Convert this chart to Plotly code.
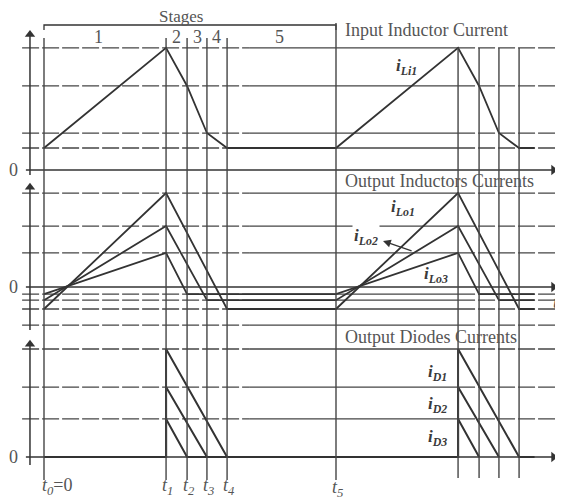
import plotly.graph_objects as go

# ---------------- data ----------------
# switching instants (arbitrary time units, t0 = 0, period = 10)
t_names = ["t<sub>0</sub>=0", "t<sub>1</sub>", "t<sub>2</sub>", "t<sub>3</sub>", "t<sub>4</sub>", "t<sub>5</sub>"]
t_marks = [0.0, 4.18, 4.90, 5.58, 6.27, 10.0]
t_marks_next = [14.18, 14.90, 15.58, 16.27]

# input inductor current
t_li1 = [0.0, 4.18, 4.90, 5.58, 6.27, 10.0, 14.18, 14.90, 15.58, 16.27, 16.8]
i_li1 = [1.0, 5.55, 3.82, 1.68, 1.0, 1.0, 5.55, 3.82, 1.68, 1.0, 1.0]

# output inductor currents
t_lo1 = [0.0, 4.18, 6.27, 10.0, 14.18, 16.27, 16.8]
i_lo1 = [-1.0, 4.27, -1.0, -1.0, 4.27, -1.0, -1.0]
t_lo2 = [0.0, 4.18, 5.58, 10.0, 14.18, 15.58, 16.8]
i_lo2 = [-0.6, 2.77, -0.6, -0.6, 2.77, -0.6, -0.6]
t_lo3 = [0.0, 4.18, 4.90, 10.0, 14.18, 14.90, 16.8]
i_lo3 = [-0.32, 1.55, -0.32, -0.32, 1.55, -0.32, -0.32]

# output diode currents
t_d1 = [0.0, 4.18, 4.18, 6.27, 14.18, 14.18, 16.27, 16.8]
i_d1 = [0.0, 0.0, 4.91, 0.0, 0.0, 4.91, 0.0, 0.0]
t_d2 = [4.18, 4.18, 5.58, 14.18, 14.18, 15.58]
i_d2 = [0.0, 3.18, 0.0, 0.0, 3.18, 0.0]
t_d3 = [4.18, 4.18, 4.90, 14.18, 14.18, 14.90]
i_d3 = [0.0, 1.73, 0.0, 0.0, 1.73, 0.0]

# reference levels (dashed guide lines)
top_levels = [5.55, 3.82, 1.68, 1.0]
mid_levels = [4.27, 2.77, 1.55, -0.32, -0.6, -1.0, -1.73]
bot_levels = [4.91, 3.18, 1.73]

stage_names = ["1", "2", "3", "4", "5"]
stage_x = [1.85, 4.55, 5.24, 5.92, 8.07]

# ---------------- figure ----------------
OFF = 8                 # page body margin
W, H = 563 - OFF, 499 - OFF
LINE = "#333333"
GRID = "#454545"
TXT = "#555555"
SERIF = "Liberation Serif, Times New Roman, serif"

fig = go.Figure()

def add_line(x, y, yaxis, color=LINE, width=1.8, dash="solid"):
    fig.add_trace(go.Scatter(x=x, y=y, yaxis=yaxis, mode="lines",
                             line=dict(color=color, width=width, dash=dash),
                             hoverinfo="skip", showlegend=False))

def add_levels(levels, yaxis):
    segs = [(-0.75, 7.05, "17px,3px"), (7.05, 14.18, "solid"), (14.18, 17.5, "17px,3px")]
    for a, b, d in segs:
        xs, ys = [], []
        for lv in levels:
            xs += [a, b, None]
            ys += [lv, lv, None]
        add_line(xs, ys, yaxis, color=GRID, width=1.3, dash=d)

add_levels(top_levels, "y")
add_levels(mid_levels, "y2")
add_levels(bot_levels, "y3")

# axes (zero lines + vertical axes with arrows)
for ax, ybot, ytop in [("y", -0.23, 6.36), ("y2", -1.95, 4.73), ("y3", -0.36, 5.32)]:
    add_line([-0.62, 17.45], [0, 0], ax, width=1.5)
    add_line([-0.48, -0.48], [ybot, ytop - 0.2], ax, width=1.5)
    fig.add_trace(go.Scatter(x=[17.45], y=[0], yaxis=ax, mode="markers",
                             marker=dict(symbol="triangle-right", size=9, color=LINE),
                             hoverinfo="skip", showlegend=False))
    fig.add_trace(go.Scatter(x=[-0.48], y=[ytop - 0.2], yaxis=ax, mode="markers",
                             marker=dict(symbol="triangle-up", size=9, color=LINE),
                             hoverinfo="skip", showlegend=False))

# current waveforms
add_line(t_li1, i_li1, "y")
add_line(t_lo1, i_lo1, "y2")
add_line(t_lo2, i_lo2, "y2")
add_line(t_lo3, i_lo3, "y2")
add_line(t_d1, i_d1, "y3", width=2.0)
add_line(t_d2, i_d2, "y3", width=2.0)
add_line(t_d3, i_d3, "y3", width=2.0)

# stage bracket
add_line([0, 0, 10.0, 10.0], [6.36, 6.59, 6.59, 6.36], "y", width=1.3)

# vertical time markers
def py(p):
    return 1 - (p - OFF) / H

shapes = []
for i, t in enumerate(t_marks):
    top = 23 if i == 5 else 38
    shapes.append(dict(type="line", xref="x", yref="paper", x0=t, x1=t,
                       y0=py(top), y1=py(480), line=dict(color=GRID, width=1.4)))
for t in t_marks_next:
    shapes.append(dict(type="line", xref="x", yref="paper", x0=t, x1=t,
                       y0=py(48), y1=py(478), line=dict(color=GRID, width=1.4)))

annotations = []
def txt(x, y, yref, text, size=18, color=TXT, xanchor="center", **kw):
    annotations.append(dict(x=x, y=y, xref="x", yref=yref, text=text, showarrow=False,
                            font=dict(family=SERIF, size=size, color=color),
                            xanchor=xanchor, yanchor="middle", **kw))

txt(4.69, 6.98, "y", "Stages", size=17)
for n, sx in zip(stage_names, stage_x):
    txt(sx, 6.05, "y", n)
txt(10.24, 6.36, "y", "Input Inductor Current", xanchor="left")
txt(10.24, 4.82, "y2", "Output Inductors Currents", xanchor="left")
txt(10.24, 5.45, "y3", "Output Diodes Currents", xanchor="left")

for ax in ["y", "y2", "y3"]:
    txt(-1.03, 0, ax, "0", size=18)

LBL = "#3a3a3a"
txt(12.40, 4.68, "y", "<b><i>i<sub>Li1</sub></i></b>", color=LBL, size=17)
txt(12.29, 3.59, "y2", "<b><i>i<sub>Lo1</sub></i></b>", color=LBL, size=17)
txt(11.03, 2.27, "y2", "<b><i>i<sub>Lo2</sub></i></b>", color=LBL, size=17, bgcolor="white")
txt(13.42, 0.55, "y2", "<b><i>i<sub>Lo3</sub></i></b>", color=LBL, size=17)
txt(13.46, 3.82, "y3", "<b><i>i<sub>D1</sub></i></b>", color=LBL, size=17)
txt(13.46, 2.36, "y3", "<b><i>i<sub>D2</sub></i></b>", color=LBL, size=17)
txt(13.46, 0.86, "y3", "<b><i>i<sub>D3</sub></i></b>", color=LBL, size=17)

# arrow from iLo2 curve to its label
annotations.append(dict(x=11.61, y=2.09, xref="x", yref="y2", ax=12.64, ay=1.62,
                        axref="x", ayref="y2", showarrow=True, arrowhead=2,
                        arrowsize=1.2, arrowwidth=1.3, arrowcolor=LINE, text=""))

# t axis labels on the right
txt(17.76, -0.38, "y", "<i>t</i>", color=TXT, xanchor="right")
txt(17.70, -0.68, "y2", "<i>t</i>", color=TXT, xanchor="right")
txt(17.76, -0.55, "y3", "<i>t</i>", color=TXT, xanchor="right")

# time tick labels
txt(-0.14, -1.33, "y3", "<i>t</i><sub><i>0</i></sub>=0", xanchor="left")
for name, t in zip(t_names[1:5], t_marks[1:5]):
    txt(t + 0.05, -1.36, "y3", "<i>" + name.replace("<sub>", "</i><sub><i>").replace("</sub>", "</i></sub><i>") + "</i>")
txt(t_marks[5] + 0.05, -1.45, "y3", "<i>t</i><sub><i>5</i></sub>")

x_px = 29.2
y_px = 22.0
x0_px = 44 - OFF
fig.update_layout(
    width=W, height=H, autosize=False,
    margin=dict(l=0, r=0, t=0, b=0),
    paper_bgcolor="white", plot_bgcolor="white",
    xaxis=dict(range=[-x0_px / x_px, (W - x0_px) / x_px], visible=False, fixedrange=True),
    yaxis=dict(range=[(170 - OFF - H) / y_px, (170 - OFF) / y_px], visible=False, domain=[0, 1]),
    yaxis2=dict(range=[(287 - OFF - H) / y_px, (287 - OFF) / y_px], visible=False, overlaying="y"),
    yaxis3=dict(range=[(457 - OFF - H) / y_px, (457 - OFF) / y_px], visible=False, overlaying="y"),
    shapes=shapes,
    annotations=annotations,
    showlegend=False,
)

fig.write_html("out.html")
